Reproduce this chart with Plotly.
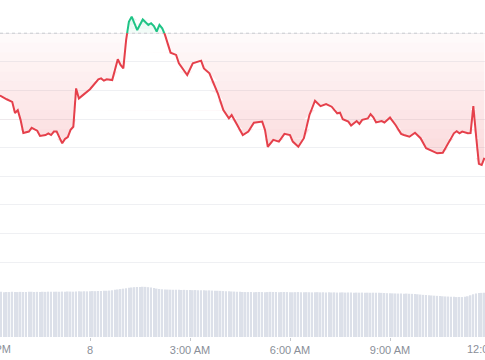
import numpy as np
import pandas as pd
import plotly.graph_objects as go

# ---------------- data ----------------
price_times = [
    "2024-03-07 21:15", "2024-03-07 21:20", "2024-03-07 21:30", "2024-03-07 21:40", "2024-03-07 21:45",
    "2024-03-07 21:50", "2024-03-07 21:55", "2024-03-07 22:00", "2024-03-07 22:10", "2024-03-07 22:15",
    "2024-03-07 22:25", "2024-03-07 22:30", "2024-03-07 22:40", "2024-03-07 22:45", "2024-03-07 22:50",
    "2024-03-07 22:55", "2024-03-07 23:00", "2024-03-07 23:10", "2024-03-07 23:15", "2024-03-07 23:20",
    "2024-03-07 23:25", "2024-03-07 23:30", "2024-03-07 23:35", "2024-03-07 23:40", "2024-03-07 23:45",
    "2024-03-07 23:55", "2024-03-08 00:00", "2024-03-08 00:15", "2024-03-08 00:20", "2024-03-08 00:25",
    "2024-03-08 00:30", "2024-03-08 00:40", "2024-03-08 00:50", "2024-03-08 00:55", "2024-03-08 01:00",
    "2024-03-08 01:05", "2024-03-08 01:10", "2024-03-08 01:15", "2024-03-08 01:25", "2024-03-08 01:35",
    "2024-03-08 01:45", "2024-03-08 01:50", "2024-03-08 01:55", "2024-03-08 02:00", "2024-03-08 02:05",
    "2024-03-08 02:10", "2024-03-08 02:15", "2024-03-08 02:25", "2024-03-08 02:35", "2024-03-08 02:40",
    "2024-03-08 02:55", "2024-03-08 03:05", "2024-03-08 03:20", "2024-03-08 03:25", "2024-03-08 03:35",
    "2024-03-08 03:50", "2024-03-08 04:00", "2024-03-08 04:10", "2024-03-08 04:15", "2024-03-08 04:25",
    "2024-03-08 04:35", "2024-03-08 04:45", "2024-03-08 04:55", "2024-03-08 05:10", "2024-03-08 05:15",
    "2024-03-08 05:20", "2024-03-08 05:30", "2024-03-08 05:40", "2024-03-08 05:50", "2024-03-08 06:00",
    "2024-03-08 06:05", "2024-03-08 06:15", "2024-03-08 06:25", "2024-03-08 06:35", "2024-03-08 06:45",
    "2024-03-08 06:55", "2024-03-08 07:05", "2024-03-08 07:15", "2024-03-08 07:25", "2024-03-08 07:30",
    "2024-03-08 07:35", "2024-03-08 07:45", "2024-03-08 07:50", "2024-03-08 08:00", "2024-03-08 08:05",
    "2024-03-08 08:10", "2024-03-08 08:20", "2024-03-08 08:25", "2024-03-08 08:30", "2024-03-08 08:35",
    "2024-03-08 08:45", "2024-03-08 08:50", "2024-03-08 09:00", "2024-03-08 09:10", "2024-03-08 09:20",
    "2024-03-08 09:25", "2024-03-08 09:35", "2024-03-08 09:45", "2024-03-08 09:55", "2024-03-08 10:05",
    "2024-03-08 10:20", "2024-03-08 10:25", "2024-03-08 10:35", "2024-03-08 10:45", "2024-03-08 10:55",
    "2024-03-08 11:00", "2024-03-08 11:05", "2024-03-08 11:10", "2024-03-08 11:20", "2024-03-08 11:25",
    "2024-03-08 11:30", "2024-03-08 11:35", "2024-03-08 11:40", "2024-03-08 11:45", "2024-03-08 11:50",
]
prices = [
    15.83, 15.80, 15.69, 15.60, 15.21,
    15.31, 14.97, 14.51, 14.56, 14.69,
    14.59, 14.41, 14.44, 14.50, 14.44,
    14.56, 14.56, 14.15, 14.30, 14.37,
    14.62, 14.73, 16.07, 15.72, 15.80,
    15.95, 16.04, 16.39, 16.42, 16.34,
    16.39, 16.36, 17.09, 16.89, 16.77,
    17.76, 18.40, 18.58, 18.11, 18.48,
    18.29, 18.35, 18.25, 18.06, 18.29,
    18.17, 17.94, 17.32, 17.24, 16.95,
    16.54, 16.95, 17.04, 16.77, 16.60,
    15.90, 15.31, 15.02, 15.14, 14.79,
    14.44, 14.56, 14.87, 14.91, 14.62,
    14.03, 14.27, 14.21, 14.48, 14.44,
    14.21, 14.03, 14.33, 15.14, 15.64,
    15.45, 15.52, 15.43, 15.20, 15.22,
    14.99, 14.91, 14.77, 14.93, 14.83,
    14.97, 15.02, 15.17, 15.06, 14.88,
    14.93, 14.88, 15.05, 14.79, 14.48,
    14.44, 14.38, 14.52, 14.33, 13.98,
    13.86, 13.80, 13.82, 14.15, 14.50,
    14.57, 14.50, 14.56, 14.50, 14.51,
    15.45, 14.40, 13.43, 13.39, 13.64,
]
base_price = 18.0   # opening price of the period (dotted reference line)

volume_start = "2024-03-07 21:15"   # 5-minute volume bars
volumes = [
    45.0, 45.2, 44.9, 45.1, 45.0, 45.3, 45.1, 45.0, 45.2, 45.1,
    45.0, 45.2, 45.3, 45.1, 45.2, 45.0, 45.3, 45.2, 45.4, 45.3,
    45.2, 45.4, 45.3, 45.5, 45.4, 45.6, 45.5, 45.4, 45.6, 45.7,
    45.6, 45.8, 45.7, 45.9, 46.0, 45.9, 46.1, 46.0, 46.2, 46.3,
    46.5, 46.8, 47.2, 47.6, 48.0, 48.4, 48.9, 49.3, 49.6, 49.9,
    50.1, 50.0, 50.3, 50.2, 49.9, 49.5, 49.0, 48.5, 48.1, 47.8,
    47.6, 47.5, 47.4, 47.3, 47.4, 47.2, 47.1, 47.2, 47.0, 47.1,
    46.9, 47.0, 46.8, 46.9, 46.7, 46.6, 46.7, 46.5, 46.4, 46.3,
    46.2, 46.0, 45.9, 45.8, 45.6, 45.5, 45.3, 45.2, 45.1, 45.0,
    45.0, 45.1, 44.9, 45.0, 45.1, 45.0, 44.9, 45.0, 45.2, 45.1,
    45.0, 44.9, 45.0, 45.1, 45.0, 44.9, 44.8, 44.9, 45.0, 44.9,
    44.8, 44.9, 44.8, 44.7, 44.8, 44.9, 44.7, 44.8, 44.6, 44.7,
    44.6, 44.7, 44.5, 44.6, 44.7, 44.5, 44.6, 44.5, 44.4, 44.5,
    44.4, 44.5, 44.3, 44.4, 44.3, 44.4, 44.2, 44.3, 44.2, 44.1,
    43.9, 43.8, 43.7, 43.6, 43.5, 43.6, 43.4, 43.5, 43.3, 43.2,
    43.0, 42.8, 42.5, 42.2, 42.0, 41.8, 41.6, 41.4, 41.2, 41.0,
    40.8, 40.6, 40.5, 40.3, 40.2, 40.0, 40.1, 40.0, 40.2, 40.8,
    41.8, 42.8, 43.6, 44.0, 44.2, 44.3,
]

tick_times = ["2024-03-07 21:00", "2024-03-08 00:00", "2024-03-08 03:00",
              "2024-03-08 06:00", "2024-03-08 09:00", "2024-03-08 12:00"]
tick_labels = ["9:00 PM", "8", "3:00 AM", "6:00 AM", "9:00 AM", "12:00 PM"]
x_window = ["2024-03-07 21:18", "2024-03-08 11:51"]

# ---------------- styling ----------------
RED = "#e5404b"
GREEN = "#1fc486"
TICK_FONT = dict(family="Liberation Sans, Arial, sans-serif", size=11, color="#8a8f99")
N_BANDS = 14          # steps used to shade the area gradient
RED_LOW, RED_ALPHA = (13.3, 0.02), 0.20   # gradient reaches RED_ALPHA at RED_LOW[0]
GREEN_HIGH, GREEN_ALPHA = 18.6, 0.15

# ---------------- split line at the reference price ----------------
t = pd.to_datetime(pd.Series(price_times)).tolist()
p = list(prices)
ts, ps = [t[0]], [p[0]]
for i in range(1, len(p)):
    p0, p1 = p[i - 1], p[i]
    if (p0 - base_price) * (p1 - base_price) < 0:
        frac = (base_price - p0) / (p1 - p0)
        ts.append(t[i - 1] + (t[i] - t[i - 1]) * frac)
        ps.append(base_price)
    ts.append(t[i])
    ps.append(p1)
ps = np.array(ps)
red_line = [v if v <= base_price else None for v in ps]
green_line = [v if v >= base_price else None for v in ps]

vol_times = pd.date_range(volume_start, periods=len(volumes), freq="5min")

fig = go.Figure()

# volume bars (secondary axis, bottom band)
fig.add_trace(go.Bar(x=vol_times, y=volumes, marker=dict(color="#dce0e9", line=dict(width=0)),
                     yaxis="y2", hoverinfo="skip"))


def add_band(lo, hi, color, below):
    """Shade the part of the area between the price line and the reference inside [lo, hi]."""
    if below:   # area from line up to reference
        edge = np.full(len(ps), hi)
        inner = np.clip(ps, lo, hi)
    else:       # area from reference up to line
        edge = np.full(len(ps), lo)
        inner = np.clip(ps, lo, hi)
    fig.add_trace(go.Scatter(x=ts, y=edge, mode="lines", line=dict(width=0), hoverinfo="skip"))
    fig.add_trace(go.Scatter(x=ts, y=inner, mode="lines", line=dict(width=0), fill="tonexty",
                             fillcolor=color, hoverinfo="skip"))


# red area: faint at the reference line, stronger further down
levels = np.linspace(base_price, RED_LOW[0], N_BANDS + 1)
for k in range(N_BANDS):
    a = RED_LOW[1] + (RED_ALPHA - RED_LOW[1]) * (k + 0.5) / N_BANDS
    lo = levels[k + 1] if k < N_BANDS - 1 else 0
    add_band(lo, levels[k], f"rgba(234,57,67,{a:.3f})", below=True)

# green area: faint at the reference line, stronger upward
glevels = np.linspace(base_price, GREEN_HIGH, 5)
for k in range(4):
    a = 0.04 + (GREEN_ALPHA - 0.04) * (k + 0.5) / 4
    hi = glevels[k + 1] if k < 3 else 100
    add_band(glevels[k], hi, f"rgba(22,199,132,{a:.3f})", below=False)

# reference dotted line
fig.add_trace(go.Scatter(x=[x_window[0], x_window[1]], y=[base_price, base_price], mode="lines",
                         line=dict(color="#c9cbd0", width=1, dash="dot"), hoverinfo="skip"))

# price lines
fig.add_trace(go.Scatter(x=ts, y=red_line, mode="lines", line=dict(color=RED, width=2),
                         connectgaps=False))
fig.add_trace(go.Scatter(x=ts, y=green_line, mode="lines", line=dict(color=GREEN, width=2),
                         connectgaps=False))

# edge tick labels that fall just outside the visible window (placed in paper coords)
w0, w1 = pd.Timestamp(x_window[0]), pd.Timestamp(x_window[1])
annotations = []
for tt, lab in zip(tick_times, tick_labels):
    ttp = pd.Timestamp(tt)
    if ttp < w0 or ttp > w1:
        xp = (ttp - w0) / (w1 - w0)
        annotations.append(dict(x=xp, xref="paper", y=0, yref="paper", text=lab, showarrow=False,
                                xanchor="center", yanchor="top", yshift=-4, font=TICK_FONT))

fig.update_layout(
    width=485, height=360,
    margin=dict(l=0, r=0, t=0, b=23),
    paper_bgcolor="white", plot_bgcolor="white",
    showlegend=False, bargap=0.4,
    annotations=annotations,
    xaxis=dict(type="date", range=x_window, tickvals=tick_times, ticktext=tick_labels,
               showgrid=False, zeroline=False, showline=False,
               ticks="outside", ticklen=3, tickcolor="#c5c8ce", tickfont=TICK_FONT),
    yaxis=dict(range=[7.378, 19.161], tickvals=list(range(10, 19)), showticklabels=False,
               showgrid=True, gridcolor="#eff0f3", gridwidth=1, zeroline=False, fixedrange=True),
    yaxis2=dict(range=[0, 337.5], overlaying="y", side="right", showgrid=False,
                showticklabels=False, zeroline=False),
)

fig.write_html("out.html")
